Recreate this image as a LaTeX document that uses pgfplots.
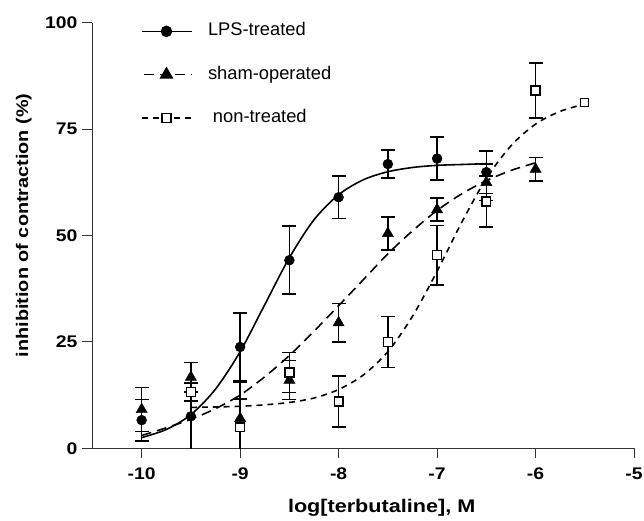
\documentclass[border=0pt]{standalone}
\usepackage{pgfplots}
\pgfplotsset{compat=1.18}
\usepackage{pgfplotstable}
\usepackage{fontspec}
\setmainfont{Liberation Sans}

\pgfplotstableread{
x y e
-10 6.6 4.9
-9.5 7.5 8
-9 23.8 8
-8.5 44.2 8
-8 59 5
-7.5 66.8 3.3
-7 68.1 5.1
-6.5 64.9 5
}\lps
\pgfplotstableread{
x y e
-10 9.1 5.2
-9.5 16.7 3.5
-9 7 8.5
-8.5 16 4.6
-8 29.5 4.5
-7.5 50.5 3.9
-7 56.1 2.7
-6.5 62.5 4.3
-6 65.6 2.8
}\sham
\pgfplotstableread{
x y e
-9.5 13.2 2.1
-9 4.9 6.7
-8.5 17.8 4.7
-8 11 6
-7.5 25 6
-7 45.4 7
-6.5 58 6
-6 84.1 6.5
}\nontr

\begin{document}
\begin{tikzpicture}
\useasboundingbox (-93bp,-72.5bp) rectangle (555bp,451bp);
\begin{axis}[
  at={(0,0)}, anchor=south west,
  scale only axis, width=545bp, height=428bp,
  xmin=-10.5, xmax=-5, ymin=0, ymax=100,
  axis lines*=left,
  axis line style={black!80, line width=1.1bp},
  tick style={black!80, line width=1.1bp},
  tick align=outside, major tick length=10bp,
  xtick={-10,-9,-8,-7,-6,-5},
  xticklabels={-10,-9,-8,-7,-6,-5},
  ytick={0,25,50,75,100},
  yticklabels={0,25,50,75,100},
  tick label style={font=\bfseries\fontsize{17}{20}\selectfont, xscale=1.15},
  xticklabel style={yshift=-6bp},
  yticklabel style={xshift=-1bp},
  xlabel={log[terbutaline], M},
  ylabel={inhibition of contraction (\%)},
  xlabel style={at={(axis description cs:0.534,-0.1519)}, anchor=base, font=\bfseries\fontsize{18.5}{22}\selectfont, xscale=1.18},
  ylabel style={at={(axis description cs:-0.1266,0.524)}, anchor=center, font=\bfseries\fontsize{17}{20}\selectfont, xscale=1.18},
  legend style={at={(rel axis cs:0.089,1.005)}, anchor=north west, draw=none, fill=none, inner sep=0pt,
     row sep=22.5bp, column sep=13bp,
     nodes={font=\fontsize{18.5}{22}\selectfont, text height=13bp, text depth=4bp, inner ysep=2bp, inner xsep=2bp, anchor=west}},
  legend cell align=left,
  legend image code/.code={\draw[mark repeat=2,mark phase=2,#1] plot coordinates {(0bp,0bp) (25bp,0bp) (51bp,0bp)};},
  clip=true,
]
\addlegendimage{black, line width=1.6bp, solid, mark=*, mark size=5bp, mark options={solid}}
\addlegendentry{LPS-treated}
\addlegendimage{black, line width=1.6bp, dash pattern=on 10bp off 6bp, dash phase=-2bp, mark=triangle*, mark size=6.5bp, mark options={solid}}
\addlegendentry{sham-operated}
\addlegendimage{black, line width=1.6bp, dash pattern=on 6bp off 5bp, mark=square*, mark size=4.5bp, mark options={solid, fill=white, line width=1.3bp}}
\addlegendentry{\hspace{5bp}non-treated}

% fitted curves
\addplot[forget plot, black, line width=1.6bp, smooth] coordinates {
(-10,2.5) (-9.75,4.4) (-9.5,7.9) (-9.25,13.9) (-9,22.7) (-8.75,33.75) (-8.5,44.8) (-8.25,53.7) (-8,59.6) (-7.75,63.1) (-7.5,65.0) (-7.25,66.0) (-7,66.5) (-6.75,66.7) (-6.5,66.9)};
\addplot[forget plot, black, line width=1.6bp, smooth, dash pattern=on 10bp off 6bp] coordinates {
(-10,3.0) (-9.75,4.8) (-9.5,6.8) (-9.25,9.3) (-9,12.5) (-8.75,16.8) (-8.5,21.8) (-8.25,27.5) (-8,33.5) (-7.75,39.6) (-7.5,45.7) (-7.25,51.1) (-7,55.9) (-6.75,59.8) (-6.5,62.9) (-6.25,65.3) (-6,67.1)};
\addplot[forget plot, black, line width=1.6bp, smooth, dash pattern=on 6bp off 5bp] coordinates {
(-9.5,9.6) (-9.25,9.7) (-9,9.86) (-8.75,10.2) (-8.5,10.76) (-8.25,11.8) (-8,13.8) (-7.75,17.2) (-7.5,22.7) (-7.25,31.0) (-7,41.6) (-6.75,53.1) (-6.5,63.4) (-6.25,71.1) (-6,76.2) (-5.75,79.2) (-5.5,80.9)};

% data points with error bars
\addplot[forget plot, black, only marks, mark=*, mark size=5bp,
  error bars/.cd, y dir=both, y explicit,
  error bar style={line width=1.3bp, black},
  error mark options={rotate=90, mark size=7bp, line width=1.5bp, black}]
  table[x=x, y=y, y error=e] {\lps};
\addplot[forget plot, black, only marks, mark=triangle*, mark size=6.5bp,
  error bars/.cd, y dir=both, y explicit,
  error bar style={line width=1.3bp, black},
  error mark options={rotate=90, mark size=7bp, line width=1.5bp, black}]
  table[x=x, y=y, y error=e] {\sham};
\addplot[forget plot, black, only marks, mark=square*, mark size=4.5bp, mark options={fill=white, line width=1.3bp},
  error bars/.cd, y dir=both, y explicit,
  error bar style={line width=1.3bp, black},
  error mark options={rotate=90, mark size=7bp, line width=1.5bp, black}]
  table[x=x, y=y, y error=e] {\nontr};
\addplot[forget plot, black, only marks, mark=square*, mark size=4bp, mark options={fill=white, line width=1.3bp}]
  coordinates {(-5.5,81.2)};
\end{axis}
\end{tikzpicture}
\end{document}
